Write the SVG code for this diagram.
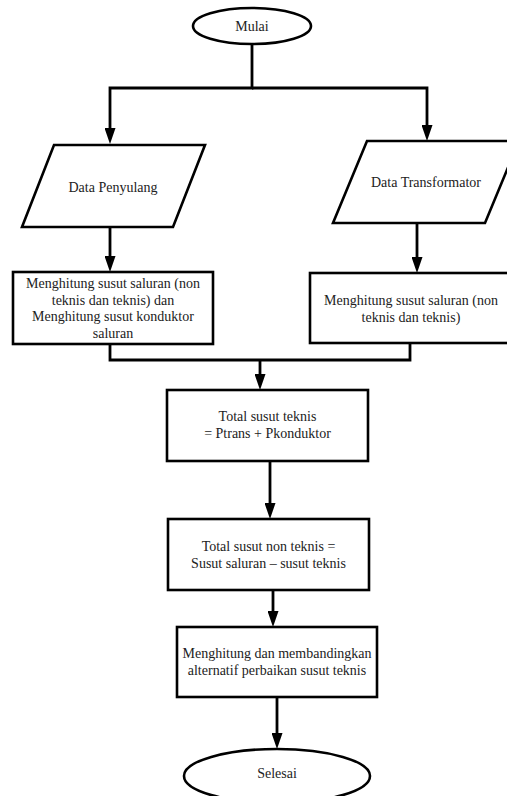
<svg xmlns="http://www.w3.org/2000/svg" width="507" height="796" viewBox="0 0 507 796">
<style>
.shape{fill:#fff;stroke:#000;stroke-width:2.6}
.conn{fill:none;stroke:#000;stroke-width:2.8}
text{font-family:"Liberation Serif","Times New Roman",serif;font-size:14px;fill:#222;text-anchor:middle}
</style>
<defs>
<marker id="arr" markerUnits="userSpaceOnUse" markerWidth="16" markerHeight="11" viewBox="0 0 16 11" refX="6" refY="5.5" orient="auto">
<path d="M0,0 L16,5.5 L0,11 Z" fill="#000"/>
</marker>
</defs>
<rect width="507" height="796" fill="#fff"/>
<g id="connectors">
<path class="conn" d="M252,44 V88 H110 V134" marker-end="url(#arr)"/>
<path class="conn" d="M252,88 H427 V131" marker-end="url(#arr)"/>
<path class="conn" d="M110,227 V262" marker-end="url(#arr)"/>
<path class="conn" d="M417,223 V263" marker-end="url(#arr)"/>
<path class="conn" d="M110,344 V360 H410 V343"/>
<path class="conn" d="M260,360 V380" marker-end="url(#arr)"/>
<path class="conn" d="M270,461 V509" marker-end="url(#arr)"/>
<path class="conn" d="M273,590 V617" marker-end="url(#arr)"/>
<path class="conn" d="M277,697 V739" marker-end="url(#arr)"/>
</g>
<g id="mulai">
<ellipse class="shape" cx="252" cy="26" rx="59" ry="18"/>
<text x="252" y="31">Mulai</text>
</g>
<g id="data-penyulang">
<polygon class="shape" points="54,145 205,145 173,227 22,227"/>
<text x="113" y="192">Data Penyulang</text>
</g>
<g id="data-transformator">
<polygon class="shape" points="367,141 519,141 485,223 333,223"/>
<text x="426" y="187">Data Transformator</text>
</g>
<g id="hitung-penyulang">
<rect class="shape" x="13" y="272" width="200" height="72"/>
<text x="113" y="288">Menghitung susut saluran (non</text>
<text x="113" y="304.5">teknis dan teknis) dan</text>
<text x="113" y="321">Menghitung susut konduktor</text>
<text x="113" y="337.5">saluran</text>
</g>
<g id="hitung-transformator">
<rect class="shape" x="310" y="273" width="202" height="70"/>
<text x="411" y="305">Menghitung susut saluran (non</text>
<text x="411" y="322">teknis dan teknis)</text>
</g>
<g id="total-teknis">
<rect class="shape" x="167" y="390" width="201" height="71"/>
<text x="267.5" y="421">Total susut teknis</text>
<text x="267.5" y="438">= Ptrans + Pkonduktor</text>
</g>
<g id="total-non-teknis">
<rect class="shape" x="168" y="519" width="201" height="71"/>
<text x="268.5" y="551">Total susut non teknis =</text>
<text x="268.5" y="568">Susut saluran – susut teknis</text>
</g>
<g id="membandingkan">
<rect class="shape" x="177" y="627" width="200" height="70"/>
<text x="277" y="658">Menghitung dan membandingkan</text>
<text x="277" y="675">alternatif perbaikan susut teknis</text>
</g>
<g id="selesai">
<ellipse class="shape" cx="277" cy="776" rx="93" ry="27"/>
<text x="277" y="778">Selesai</text>
</g>
</svg>
